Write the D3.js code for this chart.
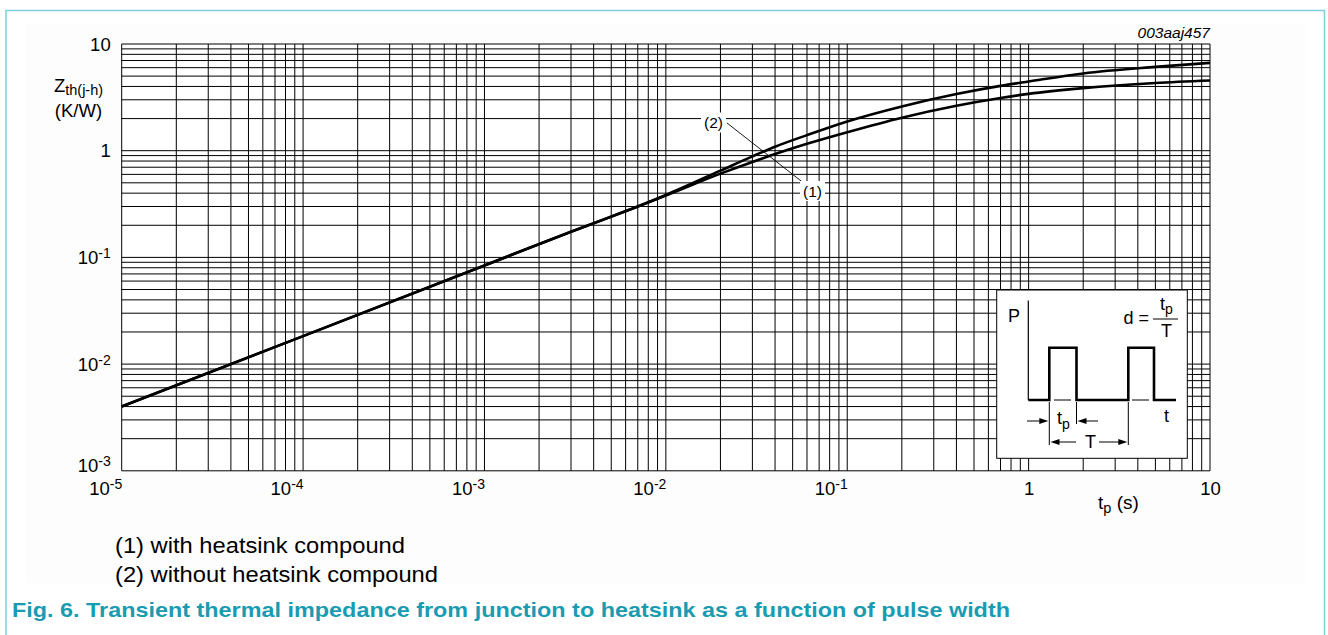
<!DOCTYPE html>
<html>
<head>
<meta charset="utf-8">
<script src="https://cdn.jsdelivr.net/npm/d3@7"></script>
<style>
  html, body { margin: 0; padding: 0; background: #fff; }
  svg { display: block; }
  text { font-family: "Liberation Sans", Arial, Helvetica, sans-serif; fill: #000; }
</style>
</head>
<body>
<svg id="chart" width="1328" height="635"></svg>
<script>
// ---- Data ----
const tCommon   = [1e-5, 1e-4, 1e-3, 3e-3, 7e-3];
const zCommon   = [0.0040, 0.0183, 0.084, 0.174, 0.30];
const tCurves   = [0.01, 0.02, 0.03, 0.04, 0.06, 0.1, 0.2, 0.4, 0.7, 1, 2, 5, 10];
const zWith     = [0.380, 0.61, 0.785, 0.93, 1.16, 1.49, 2.04, 2.64, 3.12, 3.41, 3.86, 4.31, 4.55];  // (1)
const zWithout  = [0.385, 0.65, 0.885, 1.09, 1.40, 1.88, 2.60, 3.40, 4.05, 4.45, 5.30, 6.10, 6.65];  // (2)
const xTickValues = [1e-5, 1e-4, 1e-3, 1e-2, 1e-1, 1, 10];
const xTickLabels = [["10","-5"], ["10","-4"], ["10","-3"], ["10","-2"], ["10","-1"], ["1",""], ["10",""]];
const yTickValues = [1e-3, 1e-2, 1e-1, 1, 10];
const yTickLabels = [["10","-3"], ["10","-2"], ["10","-1"], ["1",""], ["10",""]];
const legendItems = ["(1) with heatsink compound", "(2) without heatsink compound"];
const captionText = "Fig. 6. Transient thermal impedance from junction to heatsink as a function of pulse width";

const svg = d3.select("#chart");

// Outer frame
svg.append("rect").attr("x", 26).attr("y", 23).attr("width", 1280).attr("height", 560)
  .attr("fill", "#fdfdfd");
svg.append("path")
  .attr("d", "M6,635 L6,10.5 L1324.5,10.5 L1324.5,635")
  .attr("fill", "none").attr("stroke", "#7fd0df").attr("stroke-width", 1.5);

// Scales
const x = d3.scaleLog().domain([1e-5, 10]).range([121.7, 1210]);
const y = d3.scaleLog().domain([1e-3, 10]).range([470.8, 44]);

// Plot background
svg.append("rect").attr("x", x(1e-5)).attr("y", y(10))
  .attr("width", x(10) - x(1e-5)).attr("height", y(1e-3) - y(10)).attr("fill", "#fff");

// Grid
const grid = svg.append("g").attr("stroke", "#000").attr("stroke-width", 1);
grid.selectAll("line.v").data(x.ticks()).enter().append("line")
  .attr("x1", d => x(d)).attr("x2", d => x(d)).attr("y1", y(10)).attr("y2", y(1e-3));
grid.selectAll("line.h").data(y.ticks()).enter().append("line")
  .attr("y1", d => y(d)).attr("y2", d => y(d)).attr("x1", x(1e-5)).attr("x2", x(10));

// Axes (labels only)
const xAxis = d3.axisBottom(x).tickValues(xTickValues).tickSize(0).tickFormat(() => "");
const gx = svg.append("g").attr("transform", `translate(0,${y(1e-3)})`).call(xAxis);
gx.select(".domain").remove();
gx.selectAll(".tick text").remove();
gx.selectAll(".tick").each(function(d, i) {
  const lab = xTickLabels[i];
  const t = d3.select(this).append("text")
    .attr("y", 24).attr("font-size", 18.5)
    .attr("text-anchor", lab[1] ? "end" : "middle");
  t.append("tspan").text(lab[0]);
  if (lab[1]) t.append("tspan").attr("dy", -6).attr("font-size", 14).text(lab[1]);
});

const yAxis = d3.axisLeft(y).tickValues(yTickValues).tickSize(0).tickFormat(() => "");
const gy = svg.append("g").attr("transform", `translate(${x(1e-5)},0)`).call(yAxis);
gy.select(".domain").remove();
gy.selectAll(".tick text").remove();
gy.selectAll(".tick").each(function(d, i) {
  const lab = yTickLabels[i];
  const t = d3.select(this).append("text")
    .attr("x", -11).attr("y", d === 1e-3 ? 1 : 6).attr("font-size", 18.5)
    .attr("text-anchor", "end");
  t.append("tspan").text(lab[0]);
  if (lab[1]) t.append("tspan").attr("dy", -6).attr("font-size", 14).text(lab[1]);
});

// Axis titles
const yt = svg.append("text").attr("x", 78.5).attr("y", 92).attr("font-size", 18.5).attr("text-anchor", "middle");
yt.append("tspan").text("Z");
yt.append("tspan").attr("dy", 3).attr("font-size", 14.5).text("th(j-h)");
svg.append("text").attr("x", 78.5).attr("y", 117).attr("font-size", 18.5).attr("text-anchor", "middle").text("(K/W)");

const xt = svg.append("text").attr("x", 1098).attr("y", 509).attr("font-size", 19);
xt.append("tspan").text("t");
xt.append("tspan").attr("dy", 4).attr("font-size", 14.5).text("p");
xt.append("tspan").attr("dy", -4).text(" (s)");

svg.append("text").attr("x", 1210).attr("y", 38).attr("font-size", 15.5)
  .attr("font-style", "italic").attr("text-anchor", "end").text("003aaj457");

// Curves
const line = d3.line().x(d => x(d[0])).y(d => y(d[1])).curve(d3.curveMonotoneX);
const common = tCommon.map((t, i) => [t, zCommon[i]]);
const curve1 = common.concat(tCurves.map((t, i) => [t, zWith[i]]));
const curve2 = common.concat(tCurves.map((t, i) => [t, zWithout[i]]));
[curve1, curve2].forEach(c => {
  svg.append("path").datum(c).attr("d", line)
    .attr("fill", "none").attr("stroke", "#000").attr("stroke-width", 2.6)
    .attr("stroke-linejoin", "round");
});

// Curve labels
svg.append("line").attr("x1", 727).attr("y1", 123).attr("x2", 803).attr("y2", 182.5)
  .attr("stroke", "#000").attr("stroke-width", 0.9);
[[713.5, 128, "(2)"], [812.5, 196.5, "(1)"]].forEach(([cx, by, s]) => {
  svg.append("rect").attr("x", cx - 12.5).attr("y", by - 15.5).attr("width", 25).attr("height", 20).attr("fill", "#fff");
  svg.append("text").attr("x", cx).attr("y", by).attr("font-size", 15.5).attr("text-anchor", "middle").text(s);
});

// Inset (duty cycle diagram)
const ins = svg.append("g");
ins.append("rect").attr("x", 996.7).attr("y", 290).attr("width", 190.6).attr("height", 168.3)
  .attr("fill", "#fff").attr("stroke", "#000").attr("stroke-width", 1);
ins.append("line").attr("x1", 1028.3).attr("y1", 300.5).attr("x2", 1028.3).attr("y2", 400)
  .attr("stroke", "#000").attr("stroke-width", 1.2);
ins.append("path")
  .attr("d", "M1028.3,400 H1049.3 V347.7 H1076.5 V400 H1128.3 V347.7 H1154 V400 H1176")
  .attr("fill", "none").attr("stroke", "#000").attr("stroke-width", 2.6);
ins.append("path").attr("d", "M1054,400 H1071 M1132,400 H1149")
  .attr("stroke", "#000").attr("stroke-width", 1);
ins.append("path").attr("d", "M1049.3,402 V445 M1076.5,402 V424 M1128.3,402 V445")
  .attr("stroke", "#000").attr("stroke-width", 1);
function arrow(x1, x2, yy) {
  const dir = Math.sign(x2 - x1);
  ins.append("line").attr("x1", x1).attr("y1", yy).attr("x2", x2 - dir * 6).attr("y2", yy)
    .attr("stroke", "#000").attr("stroke-width", 1);
  ins.append("path").attr("d", `M${x2},${yy} L${x2 - dir * 9},${yy - 3} L${x2 - dir * 9},${yy + 3} Z`)
    .attr("fill", "#000");
}
arrow(1027, 1048.3, 421);
arrow(1098, 1077.5, 421);
arrow(1076, 1050.5, 442);
arrow(1099, 1127.3, 442);
ins.append("text").attr("x", 1008).attr("y", 322).attr("font-size", 18).text("P");
ins.append("text").attr("x", 1164).attr("y", 422).attr("font-size", 18).text("t");
const tp1 = ins.append("text").attr("x", 1057).attr("y", 424).attr("font-size", 18);
tp1.append("tspan").text("t");
tp1.append("tspan").attr("dy", 5).attr("font-size", 14).text("p");
ins.append("text").attr("x", 1090.5).attr("y", 448).attr("font-size", 18).attr("text-anchor", "middle").text("T");
ins.append("text").attr("x", 1123.5).attr("y", 324).attr("font-size", 18).text("d =");
ins.append("line").attr("x1", 1153).attr("x2", 1178).attr("y1", 319).attr("y2", 319)
  .attr("stroke", "#000").attr("stroke-width", 1);
const tp2 = ins.append("text").attr("x", 1160).attr("y", 310).attr("font-size", 18);
tp2.append("tspan").text("t");
tp2.append("tspan").attr("dy", 4).attr("font-size", 14).text("p");
ins.append("text").attr("x", 1166.5).attr("y", 337).attr("font-size", 18).attr("text-anchor", "middle").text("T");

// Legend
const legendWidths = [290, 323];
svg.selectAll("text.leg").data(legendItems).enter().append("text")
  .attr("class", "leg").attr("x", 115).attr("y", (d, i) => 553 + i * 29)
  .attr("font-size", 21.5)
  .attr("textLength", (d, i) => legendWidths[i]).attr("lengthAdjust", "spacingAndGlyphs")
  .text(d => d);

// Caption
svg.append("text").attr("x", 12).attr("y", 617).attr("font-size", 20.5).attr("font-weight", "bold")
  .attr("textLength", 998).attr("lengthAdjust", "spacingAndGlyphs")
  .style("fill", "#1a9bb1").text(captionText);
</script>
</body>
</html>
